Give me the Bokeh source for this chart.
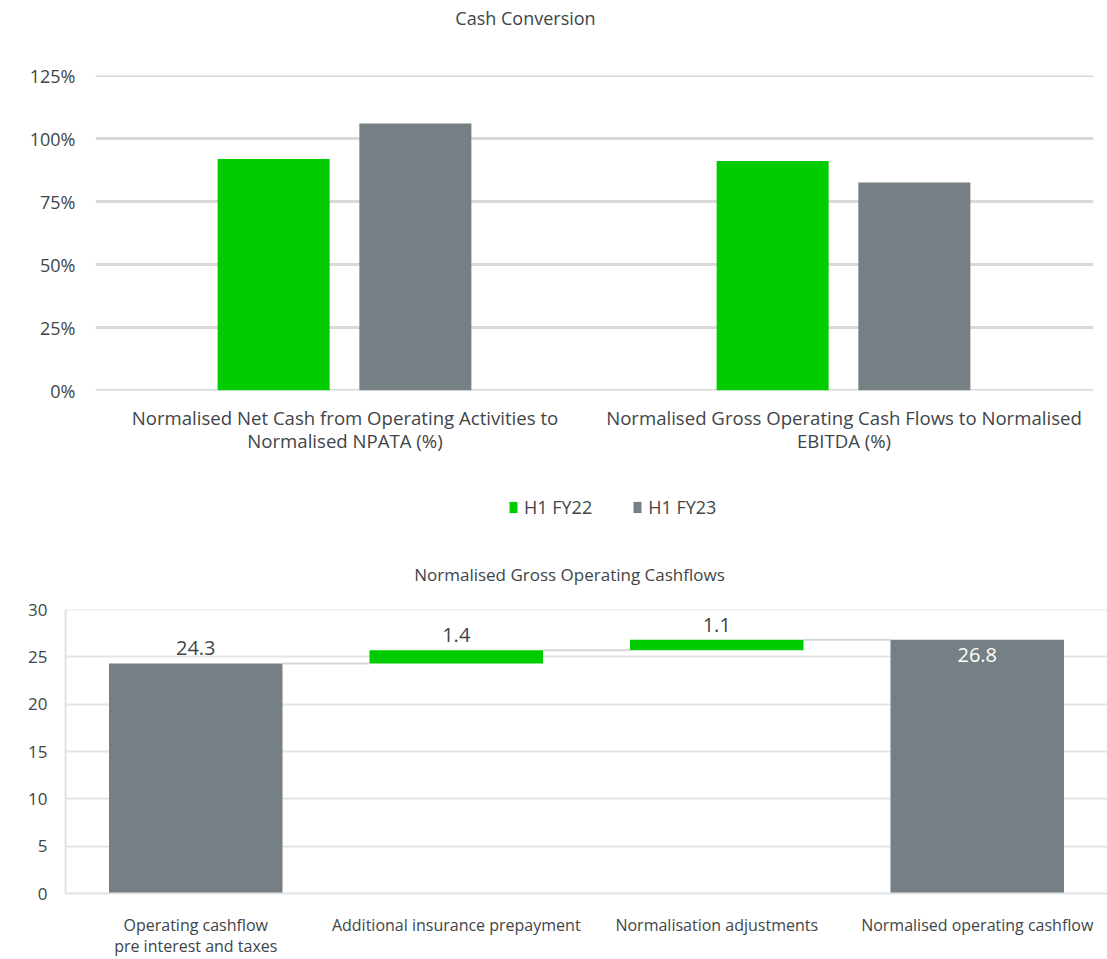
from bokeh.plotting import figure
from bokeh.models import (ColumnDataSource, FactorRange, Legend, LegendItem,
                          Range1d, FixedTicker, Span, Label)
from bokeh.transform import dodge
from bokeh.embed import file_html
from bokeh.resources import INLINE
from bokeh.core.properties import value

FONT = "Open Sans"
TXT = "#404549"
GREEN = "#00cc00"
GREY = "#757f84"
W = 1107

# ---------------- data ----------------
cc_title = "Cash Conversion"
cc_categories = [
    "Normalised Net Cash from Operating Activities to\nNormalised NPATA (%)",
    "Normalised Gross Operating Cash Flows to Normalised\nEBITDA (%)",
]
cc_series = ["H1 FY22", "H1 FY23"]
cc_fy22 = [91.9, 91.1]
cc_fy23 = [106.0, 82.5]
cc_ticks = [0, 25, 50, 75, 100, 125]

wf_title = "Normalised Gross Operating Cashflows"
wf_categories = [
    "Operating cashflow\npre interest and taxes",
    "Additional insurance prepayment",
    "Normalisation adjustments",
    "Normalised operating cashflow",
]
wf_values = [24.3, 1.4, 1.1, 26.8]
wf_is_total = [True, False, False, True]
wf_ticks = [0, 5, 10, 15, 20, 25, 30]


def blank(height):
    f = figure(width=W, height=height, x_range=Range1d(0, W),
               y_range=Range1d(0, height), min_border=0,
               x_axis_location=None, y_axis_location=None,
               output_backend="svg", toolbar_location=None)
    f.grid.visible = False
    f.outline_line_color = None
    f.background_fill_color = None
    f.border_fill_color = None
    return f


# ---------------- title 1 ----------------
T1H = 40
t1 = blank(T1H)
t1.add_layout(Label(x=525, y=T1H - 17, text=cc_title, text_align="center",
                    text_baseline="middle", text_font=FONT,
                    text_font_size="18px", text_color=TXT))

# ---------------- top chart ----------------
p1 = figure(x_range=FactorRange(*cc_categories),
            y_range=Range1d(cc_ticks[0], cc_ticks[-1]),
            width=W, height=440,
            min_border_left=95, min_border_right=14, min_border_top=35,
            min_border_bottom=90,
            output_backend="svg", toolbar_location=None)

src1 = ColumnDataSource(dict(cat=cc_categories, fy22=cc_fy22, fy23=cc_fy23))
p1.vbar(x=dodge("cat", -0.143, range=p1.x_range), top="fy22", width=0.2245,
        source=src1, fill_color=GREEN, line_color=None)
p1.vbar(x=dodge("cat", 0.141, range=p1.x_range), top="fy23", width=0.2245,
        source=src1, fill_color=GREY, line_color=None)

p1.yaxis.ticker = FixedTicker(ticks=cc_ticks)
p1.yaxis.major_label_overrides = {t: f"{t}%" for t in cc_ticks}
for ax in (p1.xaxis, p1.yaxis):
    ax.axis_line_color = None
    ax.major_tick_line_color = None
    ax.minor_tick_line_color = None
    ax.major_tick_out = 0
    ax.major_tick_in = 0
    ax.major_label_text_font = FONT
    ax.major_label_text_font_size = "18px"
    ax.major_label_text_color = TXT
p1.xaxis.major_label_text_font_size = "18.6px"
p1.xaxis.major_label_text_line_height = 0.95
p1.yaxis.major_label_standoff = 20
p1.xaxis.major_label_standoff = 14
p1.xgrid.grid_line_color = None
p1.ygrid.ticker = FixedTicker(ticks=cc_ticks)
p1.ygrid.grid_line_color = "#d9d9d9"
p1.ygrid.grid_line_width = 3
for t in (cc_ticks[0], cc_ticks[-1]):
    p1.add_layout(Span(location=t, dimension="width", line_color="#d9d9d9",
                       line_width=3, level="underlay"))
p1.outline_line_color = None
p1.background_fill_color = None
p1.border_fill_color = None

# ---------------- legend + title 2 ----------------
MH = 110
mid = blank(MH)
# legend swatches (placeholder glyphs kept outside the visible range)
g1 = mid.vbar(x=[-50], top=[-50], width=1, fill_color=GREEN, line_color=None)
g2 = mid.vbar(x=[-50], top=[-50], width=1, fill_color=GREY, line_color=None)
legend = Legend(items=[LegendItem(label=cc_series[0], renderers=[g1]),
                       LegendItem(label=cc_series[1], renderers=[g2])],
                orientation="horizontal", location=(508, 71))
legend.label_text_font = FONT
legend.label_text_font_size = "18px"
legend.label_text_color = TXT
legend.glyph_width = 10
legend.glyph_height = 14
legend.label_standoff = 6
legend.spacing = 40
legend.padding = 0
legend.margin = 0
legend.border_line_color = None
legend.background_fill_alpha = 0
mid.add_layout(legend, "center")
mid.add_layout(Label(x=569, y=MH - 94, text=wf_title, text_align="center",
                     text_baseline="middle", text_font=FONT,
                     text_font_size="17px", text_color=TXT))

# ---------------- bottom chart (waterfall) ----------------
bottoms, tops, colors = [], [], []
run = 0.0
for v, tot in zip(wf_values, wf_is_total):
    if tot:
        b, t = 0.0, v
        run = v
    else:
        b, t = run, run + v
        run = run + v
    bottoms.append(b)
    tops.append(t)
    colors.append(GREY if tot else GREEN)
labels = [f"{v:.1f}" for v in wf_values]

p2 = figure(x_range=FactorRange(*wf_categories),
            y_range=Range1d(wf_ticks[0], wf_ticks[-1]),
            width=W, height=369,
            min_border_left=65, min_border_right=0, min_border_top=19,
            min_border_bottom=64,
            output_backend="svg", toolbar_location=None)

src2 = ColumnDataSource(dict(cat=wf_categories, bottom=bottoms, top=tops,
                             color=colors, label=labels))
bw = 0.666
p2.vbar(x="cat", bottom="bottom", top="top", width=bw, source=src2,
        fill_color="color", line_color=None)

# connectors between consecutive bars
conn = ColumnDataSource(dict(c0=wf_categories[:-1], c1=wf_categories[1:],
                             y=[tops[i] for i in range(len(tops) - 1)]))
p2.segment(x0=dodge("c0", bw / 2, range=p2.x_range), y0="y",
           x1=dodge("c1", -bw / 2, range=p2.x_range), y1="y",
           source=conn, line_color="#d3d7d9", line_width=2)

n = len(wf_values)
src_out = ColumnDataSource(dict(cat=wf_categories[:n - 1], top=tops[:n - 1],
                                label=labels[:n - 1]))
src_in = ColumnDataSource(dict(cat=wf_categories[n - 1:], top=tops[n - 1:],
                               label=labels[n - 1:]))
p2.text(x="cat", y="top", text="label", source=src_out, text_align="center",
        text_baseline="middle", y_offset=-15, text_font=value(FONT),
        text_font_size="20px", text_color=TXT)
p2.text(x="cat", y="top", text="label", source=src_in, text_align="center",
        text_baseline="middle", y_offset=15, text_font=value(FONT),
        text_font_size="20px", text_color="white")

p2.yaxis.ticker = FixedTicker(ticks=wf_ticks)
for ax in (p2.xaxis, p2.yaxis):
    ax.axis_line_color = "#e0e3e5"
    ax.axis_line_width = 2
    ax.major_tick_line_color = None
    ax.minor_tick_line_color = None
    ax.major_tick_out = 0
    ax.major_tick_in = 0
    ax.major_label_text_font = FONT
    ax.major_label_text_color = TXT
p2.yaxis.major_label_text_font_size = "17px"
p2.xaxis.major_label_text_font_size = "16px"
p2.xaxis.major_label_text_line_height = 0.96
p2.yaxis.major_label_standoff = 18
p2.xaxis.major_label_standoff = 20
p2.xgrid.grid_line_color = None
p2.ygrid.ticker = FixedTicker(ticks=wf_ticks)
p2.ygrid.grid_line_color = "#e3e6e8"
p2.ygrid.grid_line_width = 2
p2.add_layout(Span(location=wf_ticks[-1], dimension="width",
                   line_color="#e3e6e8", line_width=2, level="underlay"))
p2.outline_line_color = None
p2.background_fill_color = None
p2.border_fill_color = None

open("out.html", "w").write(file_html([t1, p1, mid, p2], INLINE))
